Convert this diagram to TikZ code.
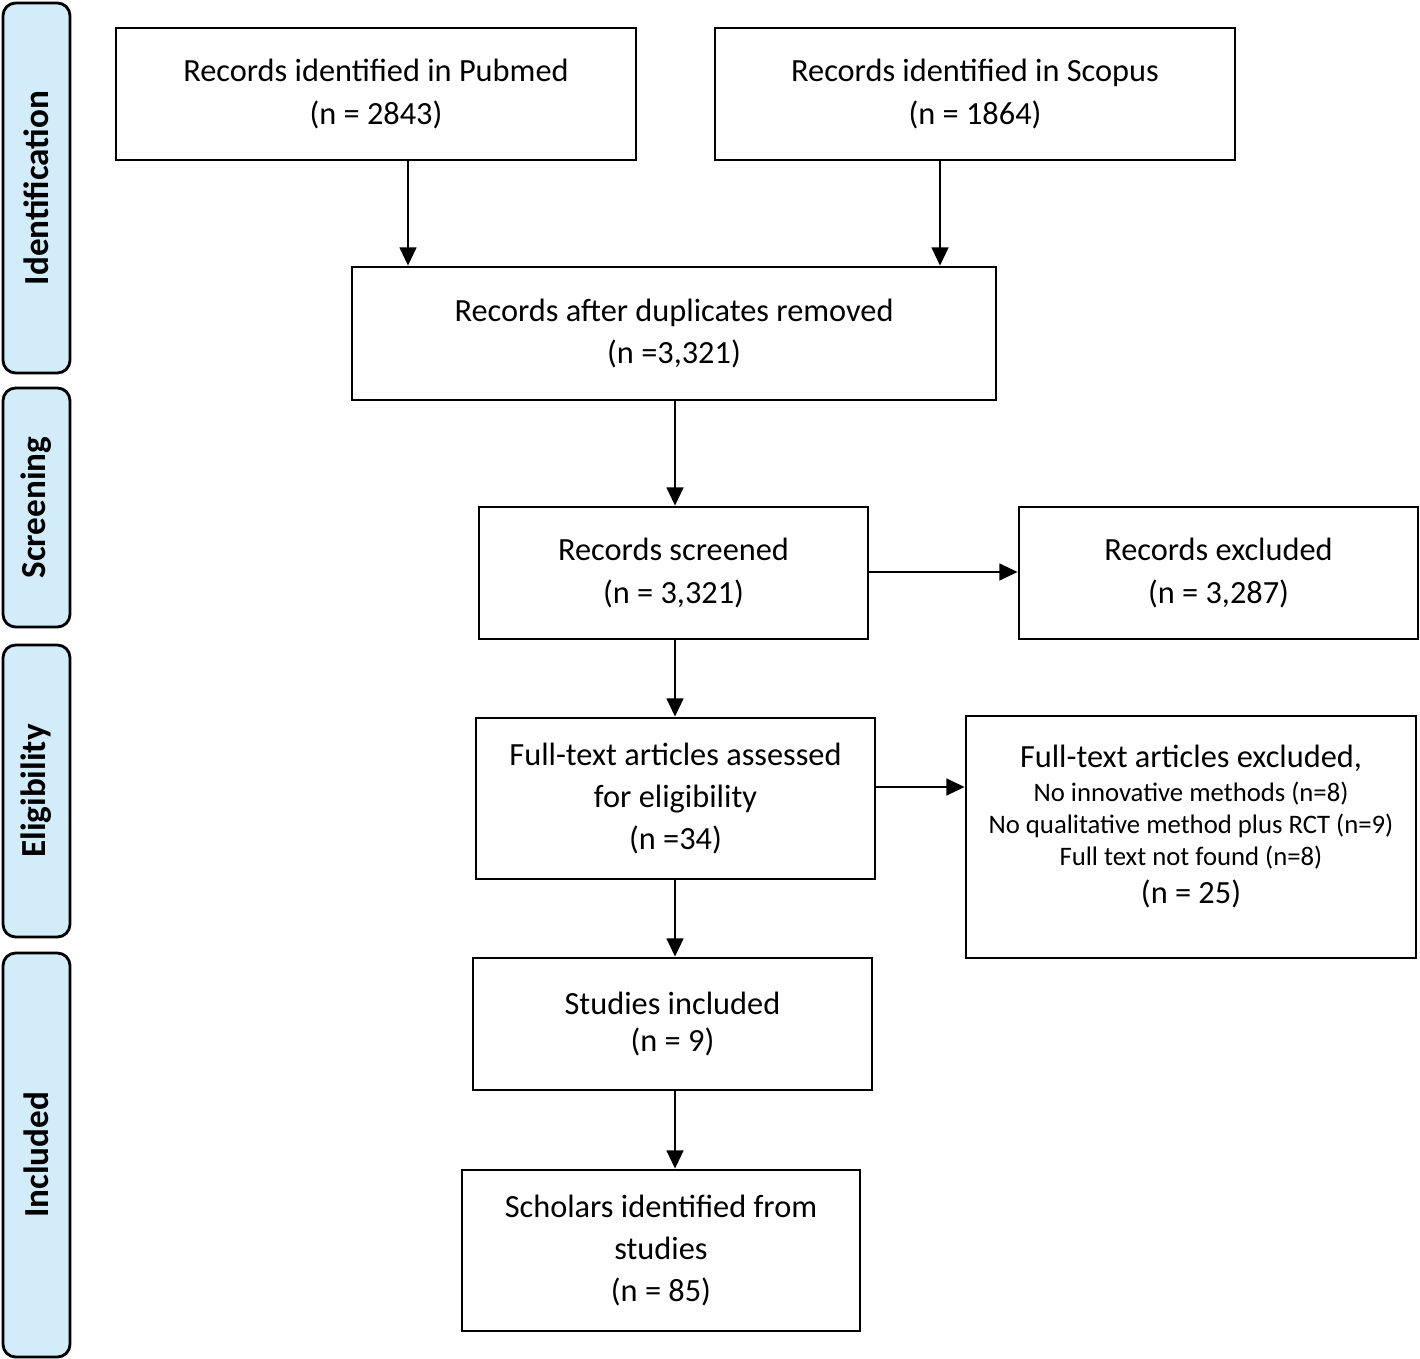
\documentclass[tikz,border=0pt]{standalone}
\usepackage{fontspec}
\setmainfont{Carlito}
\usetikzlibrary{arrows.meta}
\definecolor{stageblue}{HTML}{D2ECFA}
\begin{document}
\begin{tikzpicture}[x=0.025cm, y=-0.025cm,
  box/.style={draw, line width=2pt, rectangle, align=center, inner sep=0pt,
    font=\fontsize{23}{30}\selectfont},
  stage/.style={draw, line width=2pt, rounded corners=9pt, fill=stageblue,
    rotate=90, inner sep=0pt, minimum height=67*0.025cm,
    font=\fontsize{25}{28}\selectfont\bfseries},
  arr/.style={-{Triangle[length=13pt,width=12pt]}, line width=1.4pt}]
% page size in pixels of the reference
\def\pxu{0.025cm}
\useasboundingbox (0,0) rectangle (1420,1359);

% stage bars on the left
\node[stage, minimum width=370*\pxu] (ident) at (36.5,188) {Identification};
\node[stage, minimum width=239*\pxu] (screen) at (36.5,507.5) {Screening};
\node[stage, minimum width=292*\pxu] (elig) at (36.5,791) {Eligibility};
\node[stage, minimum width=404*\pxu] (incl) at (36.5,1155) {Included};

% boxes
\node[box, minimum width=520*\pxu, minimum height=132*\pxu] (pubmed) at (376,94)
  {Records identified in Pubmed\\(n = 2843)};
\node[box, minimum width=520*\pxu, minimum height=132*\pxu] (scopus) at (975,94)
  {Records identified in Scopus\\(n = 1864)};
\node[box, minimum width=644*\pxu, minimum height=133*\pxu] (dupl) at (674,333.5)
  {Records after duplicates removed\\(n =3,321)};
\node[box, minimum width=389*\pxu, minimum height=132*\pxu] (screened) at (673.5,573)
  {Records screened\\(n = 3,321)};
\node[box, minimum width=399*\pxu, minimum height=132*\pxu] (excl) at (1218.5,573)
  {Records excluded\\(n = 3,287)};
\node[box, minimum width=399*\pxu, minimum height=161*\pxu] (fulltext) at (675.5,798.5)
  {Full-text articles assessed\\for eligibility\\(n =34)};
\node[box, minimum width=450*\pxu, minimum height=242*\pxu] (ftexcl) at (1191,837) {};
\node[anchor=north, align=center, inner sep=0pt, font=\fontsize{23}{30}\selectfont]
  (ftexcltxt) at ([yshift=-30*\pxu]ftexcl.north)
  {Full-text articles excluded,\\[-6pt]
   {\fontsize{19}{23}\selectfont No innovative methods (n=8)}\\[-7pt]
   {\fontsize{19}{23}\selectfont No qualitative method plus RCT (n=9)}\\[-7pt]
   {\fontsize{19}{23}\selectfont Full text not found (n=8)}\\[-3pt]
   (n = 25)};
\node[box, minimum width=399*\pxu, minimum height=132*\pxu] (studies) at (672.5,1024)
  {Studies included\\[-4pt](n = 9)};
\node[box, minimum width=398*\pxu, minimum height=161*\pxu] (scholars) at (661,1250.5)
  {Scholars identified from\\studies\\(n = 85)};

% arrows
\draw[arr] (pubmed.south -| 408,0) -- (dupl.north -| 408,0);
\draw[arr] (scopus.south -| 940,0) -- (dupl.north -| 940,0);
\draw[arr] (dupl.south -| 675,0) -- (screened.north -| 675,0);
\draw[arr] (screened.east |- 0,572) -- (excl.west |- 0,572);
\draw[arr] (screened.south -| 675,0) -- (fulltext.north -| 675,0);
\draw[arr] (fulltext.east |- 0,787) -- (ftexcl.west |- 0,787);
\draw[arr] (fulltext.south -| 675,0) -- (studies.north -| 675,0);
\draw[arr] (studies.south -| 675,0) -- (scholars.north -| 675,0);
\end{tikzpicture}
\end{document}
